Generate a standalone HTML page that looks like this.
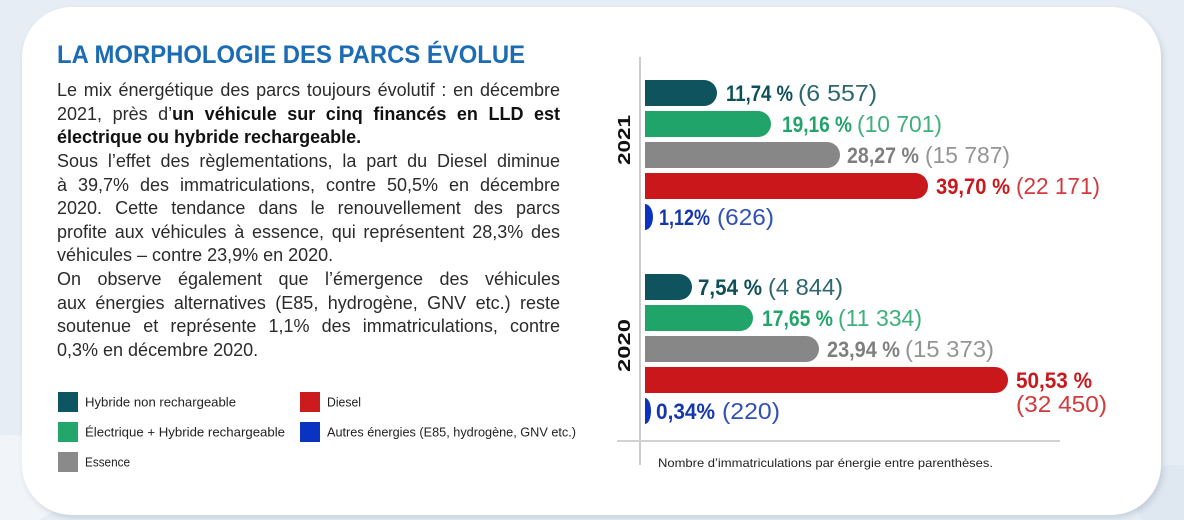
<!DOCTYPE html>
<html>
<head>
<meta charset="utf-8">
<style>
  html,body{margin:0;padding:0;}
  body{width:1184px;height:520px;overflow:hidden;background:#e6edf4;position:relative;font-family:"Liberation Sans",sans-serif;}
  .card{position:absolute;left:22px;top:7px;width:1139px;height:508px;background:#fff;border-radius:50px;box-shadow:2px 3px 6px rgba(60,80,110,0.18);}
  .txt{position:absolute;left:57px;top:79px;width:503px;font-size:18px;line-height:23.64px;color:#2b2b2b;}
  .txt div{height:23.64px;white-space:normal;}
  .j{text-align:justify;text-align-last:justify;}
  .l{text-align:left;}
  b{font-weight:bold;color:#111;}
</style>
</head>
<body>
<svg width="1184" height="520" style="position:absolute;left:0;top:0" xmlns="http://www.w3.org/2000/svg">
  <ellipse cx="10" cy="480" rx="60" ry="45" fill="#f1f5f9"/>
  <ellipse cx="1175" cy="500" rx="40" ry="35" fill="#dfe7f0"/>
</svg>
<div class="card"></div>
<svg width="1184" height="520" style="position:absolute;left:0;top:0" xmlns="http://www.w3.org/2000/svg" font-family="Liberation Sans, sans-serif">
  <!-- Title -->
  <text x="57" y="63" font-size="25" font-weight="bold" fill="#1b6cb4" textLength="468" lengthAdjust="spacingAndGlyphs">LA MORPHOLOGIE DES PARCS ÉVOLUE</text>

  <!-- Legend -->
  <rect x="58" y="392" width="20" height="20" fill="#0d5560"/>
  <rect x="58" y="422" width="20" height="20" fill="#22a66b"/>
  <rect x="58" y="452" width="20" height="20" fill="#8a8a8a"/>
  <rect x="300" y="392" width="20" height="20" fill="#cc1b1f"/>
  <rect x="300" y="422" width="20" height="20" fill="#0a33c2"/>
  <g font-size="13" fill="#222">
    <text x="85" y="406.5" textLength="151" lengthAdjust="spacingAndGlyphs">Hybride non rechargeable</text>
    <text x="85" y="436.5" textLength="200" lengthAdjust="spacingAndGlyphs">Électrique + Hybride rechargeable</text>
    <text x="85" y="466.5" textLength="45" lengthAdjust="spacingAndGlyphs">Essence</text>
    <text x="327" y="406.5" textLength="34" lengthAdjust="spacingAndGlyphs">Diesel</text>
    <text x="327" y="436.5" textLength="249" lengthAdjust="spacingAndGlyphs">Autres énergies (E85, hydrogène, GNV etc.)</text>
  </g>

  <!-- Axes -->
  <line x1="640" y1="57" x2="640" y2="465" stroke="#cccccc" stroke-width="2"/>
  <line x1="617" y1="441" x2="1060" y2="441" stroke="#d2d2d2" stroke-width="2"/>

  <!-- Year labels -->
  <text transform="translate(630,140) rotate(-90)" text-anchor="middle" font-size="17.5" font-weight="bold" fill="#111" textLength="50" lengthAdjust="spacingAndGlyphs">2021</text>
  <text transform="translate(630,345.5) rotate(-90)" text-anchor="middle" font-size="17.5" font-weight="bold" fill="#111" textLength="53" lengthAdjust="spacingAndGlyphs">2020</text>

  <!-- 2021 bars -->
  <path d="M645 80 H704 A13 13 0 0 1 704 106 H645 Z" fill="#0e535e"/>
  <path d="M645 111 H758 A13 13 0 0 1 758 137 H645 Z" fill="#21a46a"/>
  <path d="M645 142 H827 A13 13 0 0 1 827 168 H645 Z" fill="#878787"/>
  <path d="M645 173 H915 A13 13 0 0 1 915 199 H645 Z" fill="#c9171c"/>
  <path d="M645 204 A8 13 0 0 1 645 230 Z" fill="#0b33bf"/>

  <!-- 2020 bars -->
  <path d="M645 274 H679 A13 13 0 0 1 679 300 H645 Z" fill="#0e535e"/>
  <path d="M645 305 H740 A13 13 0 0 1 740 331 H645 Z" fill="#21a46a"/>
  <path d="M645 336 H806 A13 13 0 0 1 806 362 H645 Z" fill="#878787"/>
  <path d="M645 367 H995 A13 13 0 0 1 995 393 H645 Z" fill="#c9171c"/>
  <path d="M645 398 A6 13 0 0 1 645 424 Z" fill="#0b33bf"/>

  <!-- 2021 labels -->
  <g font-size="22">
    <text x="726" y="101" font-weight="bold" fill="#0d4f5a" textLength="67" lengthAdjust="spacingAndGlyphs">11,74 %</text>
    <text x="798" y="101" font-size="23" fill="#2e6770" textLength="79" lengthAdjust="spacingAndGlyphs">(6 557)</text>

    <text x="782" y="132" font-weight="bold" fill="#22a36a" textLength="70" lengthAdjust="spacingAndGlyphs">19,16 %</text>
    <text x="857" y="132" font-size="23" fill="#3fb07c" textLength="85" lengthAdjust="spacingAndGlyphs">(10 701)</text>

    <text x="847" y="163" font-weight="bold" fill="#7f7f7f" textLength="72" lengthAdjust="spacingAndGlyphs">28,27 %</text>
    <text x="925" y="163" font-size="23" fill="#959595" textLength="85" lengthAdjust="spacingAndGlyphs">(15 787)</text>

    <text x="936" y="194" font-weight="bold" fill="#c9171c" textLength="74" lengthAdjust="spacingAndGlyphs">39,70 %</text>
    <text x="1016" y="194" font-size="23" fill="#d23a3e" textLength="84" lengthAdjust="spacingAndGlyphs">(22 171)</text>

    <text x="659" y="225" font-weight="bold" fill="#1537ad" textLength="51" lengthAdjust="spacingAndGlyphs">1,12%</text>
    <text x="717" y="225" font-size="23" fill="#3150b8" textLength="57" lengthAdjust="spacingAndGlyphs">(626)</text>
  </g>

  <!-- 2020 labels -->
  <g font-size="22">
    <text x="698" y="295" font-weight="bold" fill="#0d4f5a" textLength="64" lengthAdjust="spacingAndGlyphs">7,54 %</text>
    <text x="768" y="295" font-size="23" fill="#2e6770" textLength="75" lengthAdjust="spacingAndGlyphs">(4 844)</text>

    <text x="762" y="326" font-weight="bold" fill="#22a36a" textLength="71" lengthAdjust="spacingAndGlyphs">17,65 %</text>
    <text x="838" y="326" font-size="23" fill="#3fb07c" textLength="84" lengthAdjust="spacingAndGlyphs">(11 334)</text>

    <text x="827" y="357" font-weight="bold" fill="#7f7f7f" textLength="73" lengthAdjust="spacingAndGlyphs">23,94 %</text>
    <text x="905" y="357" font-size="23" fill="#959595" textLength="89" lengthAdjust="spacingAndGlyphs">(15 373)</text>

    <text x="1016" y="388" font-weight="bold" fill="#c9171c" textLength="76" lengthAdjust="spacingAndGlyphs">50,53 %</text>
    <text x="1016" y="412" font-size="23" fill="#d23a3e" textLength="91" lengthAdjust="spacingAndGlyphs">(32 450)</text>

    <text x="656" y="419" font-weight="bold" fill="#1537ad" textLength="59" lengthAdjust="spacingAndGlyphs">0,34%</text>
    <text x="722" y="419" font-size="23" fill="#3150b8" textLength="58" lengthAdjust="spacingAndGlyphs">(220)</text>
  </g>

  <!-- Footnote -->
  <text x="658" y="467" font-size="12" fill="#222" textLength="335" lengthAdjust="spacingAndGlyphs">Nombre d’immatriculations par énergie entre parenthèses.</text>
</svg>

<div class="txt">
  <div class="j">Le mix énergétique des parcs toujours évolutif : en décembre</div>
  <div class="j">2021, près d’<b>un véhicule sur cinq financés en LLD est</b></div>
  <div class="l"><b>électrique ou hybride rechargeable.</b></div>
  <div class="j">Sous l’effet des règlementations, la part du Diesel diminue</div>
  <div class="j">à 39,7% des immatriculations, contre 50,5% en décembre</div>
  <div class="j">2020. Cette tendance dans le renouvellement des parcs</div>
  <div class="j">profite aux véhicules à essence, qui représentent 28,3% des</div>
  <div class="l">véhicules – contre 23,9% en 2020.</div>
  <div class="j">On observe également que l’émergence des véhicules</div>
  <div class="j">aux énergies alternatives (E85, hydrogène, GNV etc.) reste</div>
  <div class="j">soutenue et représente 1,1% des immatriculations, contre</div>
  <div class="l">0,3% en décembre 2020.</div>
</div>
</body>
</html>
